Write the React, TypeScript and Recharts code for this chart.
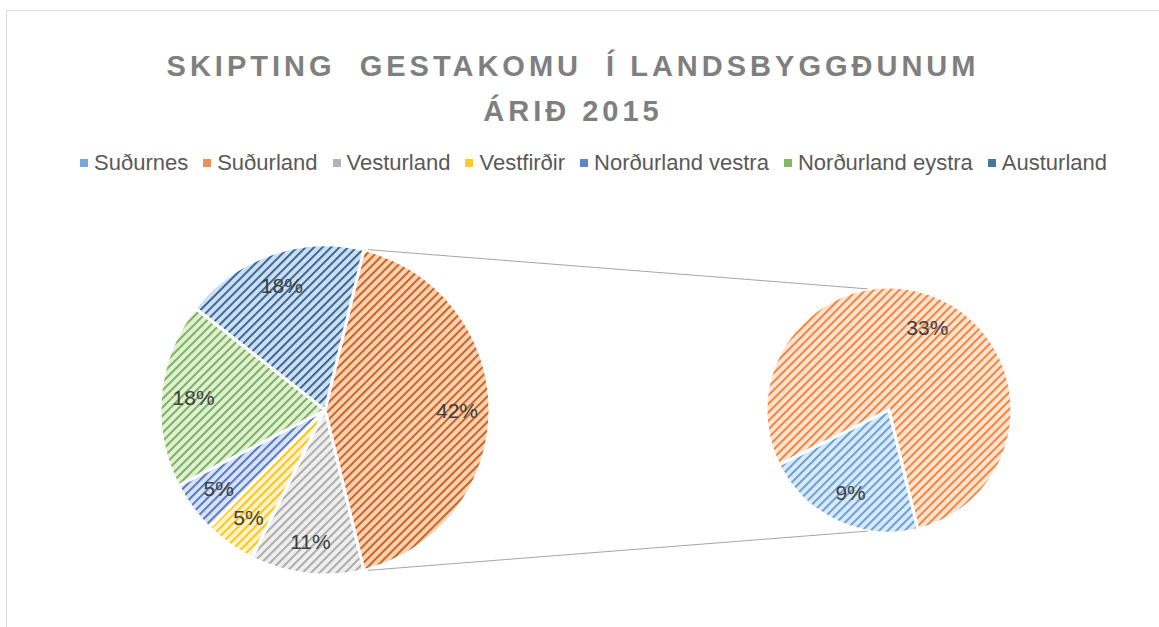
import React from 'react';
import { PieChart, Pie, Cell } from 'recharts';

// ---- data ----
const regions = ['Suðurnes', 'Suðurland', 'Vesturland', 'Vestfirðir', 'Norðurland vestra', 'Norðurland eystra', 'Austurland'];
const shares = [9, 33, 11, 5, 5, 18, 18];
const splitCount = 2; // first two regions are shown in the secondary pie
const titleLines = ['SKIPTING  GESTAKOMU  Í LANDSBYGGÐUNUM', 'ÁRIÐ 2015'];

// ---- styles ----
const fg = ['#5b9bd5', '#ed7d31', '#a5a5a5', '#ffc000', '#4472c4', '#70ad47', '#255e91'];
const bg = ['#dbe9f7', '#fde2d0', '#eeeeee', '#fff2cc', '#d9e1f3', '#e1efd8', '#cfdeee'];
const otherFg = '#c55a11';
const otherBg = '#f8d0b3';

const W = 1159;
const H = 627;
const MAIN = { cx: 325, cy: 410, r: 165 };
const SUB = { cx: 889, cy: 410, r: 123 };
const RAD = Math.PI / 180;

const total = shares.reduce((a, b) => a + b, 0);
const otherValue = shares.slice(0, splitCount).reduce((a, b) => a + b, 0);
const mainData = [
  { name: 'Other', value: otherValue, pat: 'pat-other' },
  ...regions.slice(splitCount).map((n, i) => ({ name: n, value: shares[i + splitCount], pat: `pat-${i + splitCount}` })),
];
const subData = regions.slice(0, splitCount).map((n, i) => ({ name: n, value: shares[i], pat: `pat-${i}` }));

const halfOther = (otherValue / total) * 180;
const mainStart = halfOther;
const mainEnd = halfOther - 360;
const subStart = 360 - halfOther;
const subEnd = subStart - 360;

const makeLabel = (ratio: number) => (props: any) => {
  const { cx, cy, midAngle, outerRadius, value } = props;
  const r = outerRadius * ratio;
  const x = cx + r * Math.cos(-midAngle * RAD);
  const y = cy + r * Math.sin(-midAngle * RAD);
  return (
    <text x={x} y={y} fill="#404040" fontSize={21} fontFamily="'Liberation Sans', Arial, sans-serif" textAnchor="middle" dominantBaseline="central">
      {`${value}%`}
    </text>
  );
};

const Pattern = ({ id, f, b }: { id: string; f: string; b: string }) => (
  <pattern id={id} patternUnits="userSpaceOnUse" width={6} height={6} patternTransform="rotate(45)">
    <rect x={0} y={0} width={6} height={6} fill={b} />
    <rect x={0} y={0} width={1.8} height={6} fill={f} />
  </pattern>
);

function pt(c: { cx: number; cy: number; r: number }, angle: number) {
  return { x: c.cx + c.r * Math.cos(-angle * RAD), y: c.cy + c.r * Math.sin(-angle * RAD) };
}

export default function App() {
  const a1 = pt(MAIN, halfOther);
  const a2 = pt(MAIN, -halfOther);
  const b1 = pt(SUB, 90 + 10);
  const b2 = pt(SUB, 270 - 10);
  return (
    <div style={{ position: 'absolute', left: 0, top: 0, width: W, height: H, background: '#fff', overflow: 'hidden' }}>
      <svg width={0} height={0} style={{ position: 'absolute' }}>
        <defs>
          {fg.map((c, i) => (
            <Pattern key={i} id={`pat-${i}`} f={c} b={bg[i]} />
          ))}
          <Pattern id="pat-other" f={otherFg} b={otherBg} />
        </defs>
      </svg>
      <div style={{ position: 'absolute', left: 6, top: 10, width: W, height: H, borderLeft: '1px solid #d9d9d9', borderTop: '1px solid #d9d9d9' }} />
      <div
        style={{
          position: 'absolute', left: 0, top: 44, width: 1146, textAlign: 'center', whiteSpace: 'pre',
          fontFamily: "'Liberation Sans', Arial, sans-serif", fontWeight: 700, fontSize: 29, letterSpacing: 4,
          color: '#7f7f7f', lineHeight: '45px',
        }}
      >
        {titleLines.map((t, i) => (
          <div key={i}>{t}</div>
        ))}
      </div>
      <div
        style={{
          position: 'absolute', left: 0, top: 149, width: 1187, display: 'flex', justifyContent: 'center', gap: 15,
          fontFamily: "'Liberation Sans', Arial, sans-serif", fontSize: 22, color: '#595959', lineHeight: '28px',
        }}
      >
        {regions.map((n, i) => (
          <div key={n} style={{ display: 'flex', alignItems: 'center', gap: 6 }}>
            <svg width={8} height={8}>
              <rect width={8} height={8} fill={fg[i]} fillOpacity={0.85} />
            </svg>
            <span>{n}</span>
          </div>
        ))}
      </div>
      <div style={{ position: 'absolute', left: 0, top: 0 }}>
        <PieChart width={W} height={H} margin={{ top: 0, right: 0, bottom: 0, left: 0 }}>
          <Pie
            data={mainData}
            dataKey="value"
            nameKey="name"
            cx={MAIN.cx}
            cy={MAIN.cy}
            outerRadius={MAIN.r}
            startAngle={mainStart}
            endAngle={mainEnd}
            stroke="#ffffff"
            strokeWidth={3}
            label={makeLabel(0.8)}
            labelLine={false}
            isAnimationActive={false}
          >
            {mainData.map((d) => (
              <Cell key={d.name} fill={`url(#${d.pat})`} />
            ))}
          </Pie>
          <Pie
            data={subData}
            dataKey="value"
            nameKey="name"
            cx={SUB.cx}
            cy={SUB.cy}
            outerRadius={SUB.r}
            startAngle={subStart}
            endAngle={subEnd}
            stroke="#ffffff"
            strokeWidth={3}
            label={makeLabel(0.74)}
            labelLine={false}
            isAnimationActive={false}
          >
            {subData.map((d) => (
              <Cell key={d.name} fill={`url(#${d.pat})`} />
            ))}
          </Pie>
        </PieChart>
      </div>
      <svg width={W} height={H} style={{ position: 'absolute', left: 0, top: 0, pointerEvents: 'none' }}>
        <line x1={a1.x + 4} y1={a1.y} x2={b1.x} y2={b1.y} stroke="#a6a6a6" strokeWidth={1} />
        <line x1={a2.x + 4} y1={a2.y} x2={b2.x} y2={b2.y} stroke="#a6a6a6" strokeWidth={1} />
      </svg>
    </div>
  );
}
